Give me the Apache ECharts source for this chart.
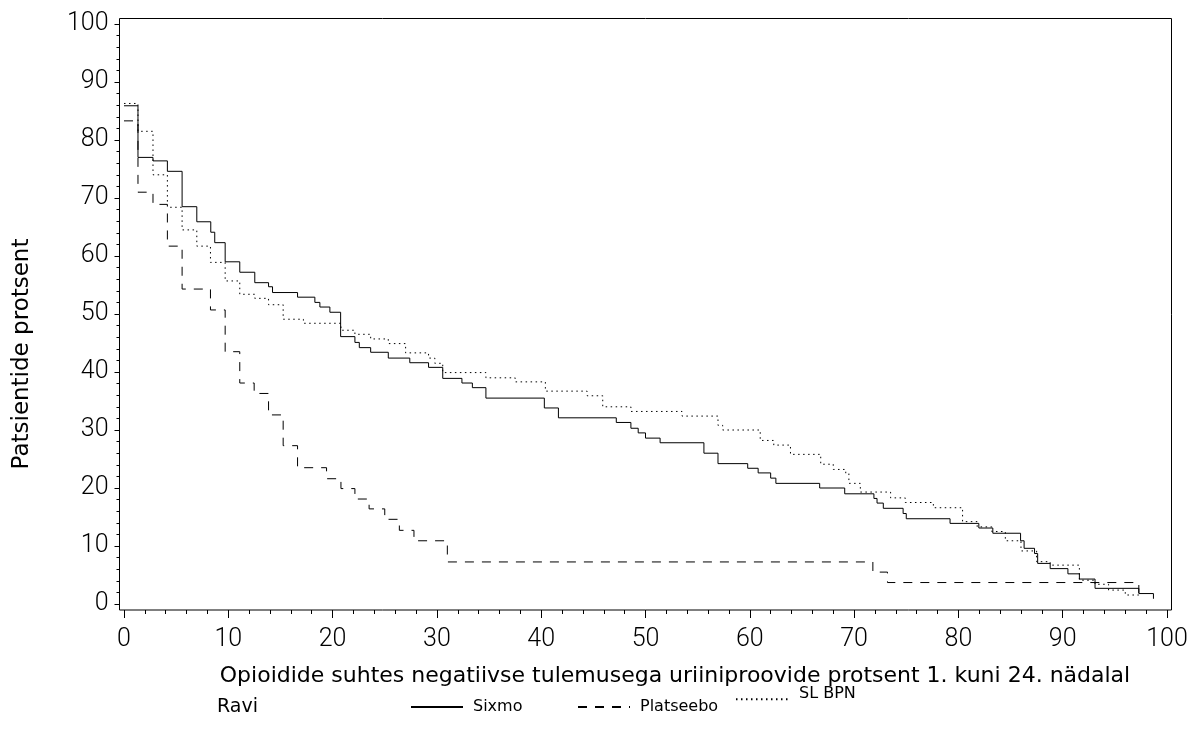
<!DOCTYPE html>
<html>
<head>
<meta charset="utf-8">
<script src="https://cdn.jsdelivr.net/npm/echarts@6/dist/echarts.min.js"></script>
<style>
  html, body { margin: 0; padding: 0; background: #fff; }
  #chart { width: 1195px; height: 729px; }
</style>
</head>
<body>
<div id="chart"></div>
<script>
// x = % negative samples, y = % patients (step curves)
const sixmoX = [0, 1.34, 2.78, 4.16, 5.57, 6.98, 8.32, 8.70, 9.70, 11.1, 12.54, 13.86, 14.24, 16.64, 18.3, 18.78, 19.74, 20.77, 22.14, 22.56,
  23.65, 25.34, 27.4, 29.2, 30.56, 32.4, 33.4, 34.7, 40.3, 41.65, 47.2, 48.6, 49.3, 50.0, 51.4, 55.6, 56.95, 59.8, 60.8, 62.0,
  62.5, 66.7, 69.1, 71.9, 72.2, 72.8, 74.7, 75.0, 79.2, 81.96, 83.3, 85.96, 86.3, 87.3, 87.6, 88.8, 90.5, 91.6, 93.1, 97.3, 98.7]
const sixmoY = [85.9, 77.0, 76.4, 74.6, 68.5, 65.9, 64.1, 62.3, 59.0, 57.2, 55.4, 54.7, 53.7, 52.9, 52.0, 51.2, 50.3, 46.1, 45.1, 44.2,
  43.4, 42.4, 41.6, 40.8, 38.9, 38.1, 37.3, 35.5, 33.8, 32.1, 31.3, 30.3, 29.5, 28.6, 27.8, 26.0, 24.2, 23.4, 22.6, 21.7,
  20.8, 20.0, 19.0, 18.2, 17.4, 16.5, 15.6, 14.7, 13.9, 13.1, 12.2, 10.9, 9.6, 8.7, 7.0, 6.1, 5.2, 4.3, 2.7, 1.8, 0.9]

const placeboX = [0, 1.34, 2.78, 4.16, 5.57, 8.29, 9.70, 11.1, 12.48, 13.86, 15.26, 16.64, 19.42, 20.8, 22.14, 23.5, 25.0, 26.4, 27.8, 31.0, 71.8, 73.2, 97.3]
const placeboY = [83.3, 71.0, 68.9, 61.7, 54.3, 50.7, 43.5, 38.1, 36.3, 32.6, 27.3, 23.5, 21.6, 19.9, 18.1, 16.4, 14.6, 12.7, 10.9, 7.25, 5.5, 3.7, 1.9]

const slbpnX = [0, 1.34, 2.78, 4.16, 5.57, 6.98, 8.29, 9.70, 11.1, 12.54, 13.86, 15.26, 17.2, 20.8, 22.14, 23.65, 25.34, 27.0, 29.2, 29.8,
  30.56, 34.7, 37.5, 40.4, 44.4, 45.9, 48.6, 53.5, 56.95, 57.4, 61.0, 62.3, 63.9, 66.8, 68.0, 69.2, 69.5, 70.6, 73.5, 74.9,
  77.6, 80.4, 81.8, 83.2, 84.5, 86.0, 87.5, 88.8, 91.6, 93.1, 94.4, 96.0, 97.3]
const slbpnY = [86.3, 81.5, 74.0, 68.4, 64.5, 61.7, 58.9, 55.7, 53.4, 52.7, 51.6, 49.1, 48.4, 47.2, 46.5, 45.7, 44.9, 43.3, 42.4, 41.5,
  39.9, 39.0, 38.3, 36.7, 35.9, 34.0, 33.2, 32.4, 30.8, 30.0, 28.2, 27.4, 25.8, 24.1, 23.2, 22.5, 20.8, 19.3, 18.3, 17.5,
  16.6, 14.2, 13.3, 12.5, 10.9, 9.15, 7.3, 6.7, 4.1, 3.4, 2.4, 1.55, 1.55]

const seriesNames = ["Sixmo", "Platseebo", "SL BPN"]
const xTitle = "Opioidide suhtes negatiivse tulemusega uriiniproovide protsent 1. kuni 24. nädalal"
const yTitle = "Patsientide protsent"
const legendTitle = "Ravi"

const pairs = (xs, ys) => xs.map((x, i) => [x, ys[i]])

const tickFont = { color: "#000", fontFamily: "Roboto", fontWeight: 300, fontSize: 25 }
const titleFont = "DejaVu Sans"

const chart = echarts.init(document.getElementById("chart"), null, { renderer: "canvas" })

// one legend box per item so each can sit where the original put it
function oneLegend(name, left, top, noText) {
  return {
    data: [name],
    left: left,
    top: top,
    padding: 0,
    orient: "horizontal",
    itemWidth: 52,
    itemHeight: 18,
    itemStyle: { opacity: 0 },
    selectedMode: false,
    formatter: noText ? () => "" : "{name}",
    textStyle: { color: "#000", fontFamily: titleFont, fontSize: 16, lineHeight: 18, padding: [0, 0, 0, 5] }
  }
}

const option = {
  animation: false,
  backgroundColor: "#fff",
  grid: { left: 124, right: 28, top: 24, bottom: 125, containLabel: false },
  xAxis: {
    type: "value",
    min: 0,
    max: 100,
    interval: 10,
    offset: 6,
    axisLine: { show: false, onZero: false },
    axisTick: { show: true, length: 8, lineStyle: { color: "#000", width: 1 } },
    minorTick: { show: true, splitNumber: 5, length: 4, lineStyle: { color: "#000", width: 1 } },
    splitLine: { show: false },
    axisLabel: Object.assign({ margin: 17 }, tickFont)
  },
  yAxis: {
    type: "value",
    min: 0,
    max: 100,
    interval: 10,
    offset: 4.5,
    axisLine: { show: false, onZero: false },
    axisTick: { show: true, length: 5, lineStyle: { color: "#000", width: 1 } },
    minorTick: { show: true, splitNumber: 5, length: 3, lineStyle: { color: "#000", width: 1 } },
    splitLine: { show: false },
    axisLabel: Object.assign({ margin: 11 }, tickFont)
  },
  legend: [
    oneLegend(seriesNames[0], 410, 698, false),
    oneLegend(seriesNames[1], 577, 698, false),
    oneLegend(seriesNames[2], 735, 692, true)
  ],
  graphic: [
    {
      type: "rect",
      shape: { x: 119.5, y: 18.5, width: 1052, height: 591.5 },
      style: { fill: "none", stroke: "#000", lineWidth: 1 },
      silent: true
    },
    {
      type: "text",
      x: 675, y: 676,
      style: { text: xTitle, font: "22px " + titleFont, fill: "#000", textAlign: "center", textVerticalAlign: "middle" }
    },
    {
      type: "text",
      x: 22, y: 354,
      rotation: Math.PI / 2,
      style: { text: yTitle, font: "23px " + titleFont, fill: "#000", textAlign: "center", textVerticalAlign: "middle" }
    },
    {
      type: "text",
      x: 217, y: 707,
      style: { text: legendTitle, font: "19px " + titleFont, fill: "#000", textAlign: "left", textVerticalAlign: "middle" }
    },
    {
      // the original sets this legend label a little higher than the others
      type: "text",
      x: 799, y: 694,
      style: { text: seriesNames[2], font: "16px " + titleFont, fill: "#000", textAlign: "left", textVerticalAlign: "middle" }
    }
  ],
  series: [
    {
      name: seriesNames[0],
      type: "line",
      step: "end",
      symbol: "none",
      data: pairs(sixmoX, sixmoY),
      lineStyle: { color: "#000", width: 1, type: "solid" },
      itemStyle: { color: "#000" }
    },
    {
      name: seriesNames[1],
      type: "line",
      step: "end",
      symbol: "none",
      data: pairs(placeboX, placeboY),
      lineStyle: { color: "#000", width: 1, type: [9, 8] },
      itemStyle: { color: "#000" }
    },
    {
      name: seriesNames[2],
      type: "line",
      step: "end",
      symbol: "none",
      data: pairs(slbpnX, slbpnY),
      lineStyle: { color: "#000", width: 1, type: [1.5, 3.5] },
      itemStyle: { color: "#000" }
    }
  ]
}

chart.setOption(option)
</script>
</body>
</html>
